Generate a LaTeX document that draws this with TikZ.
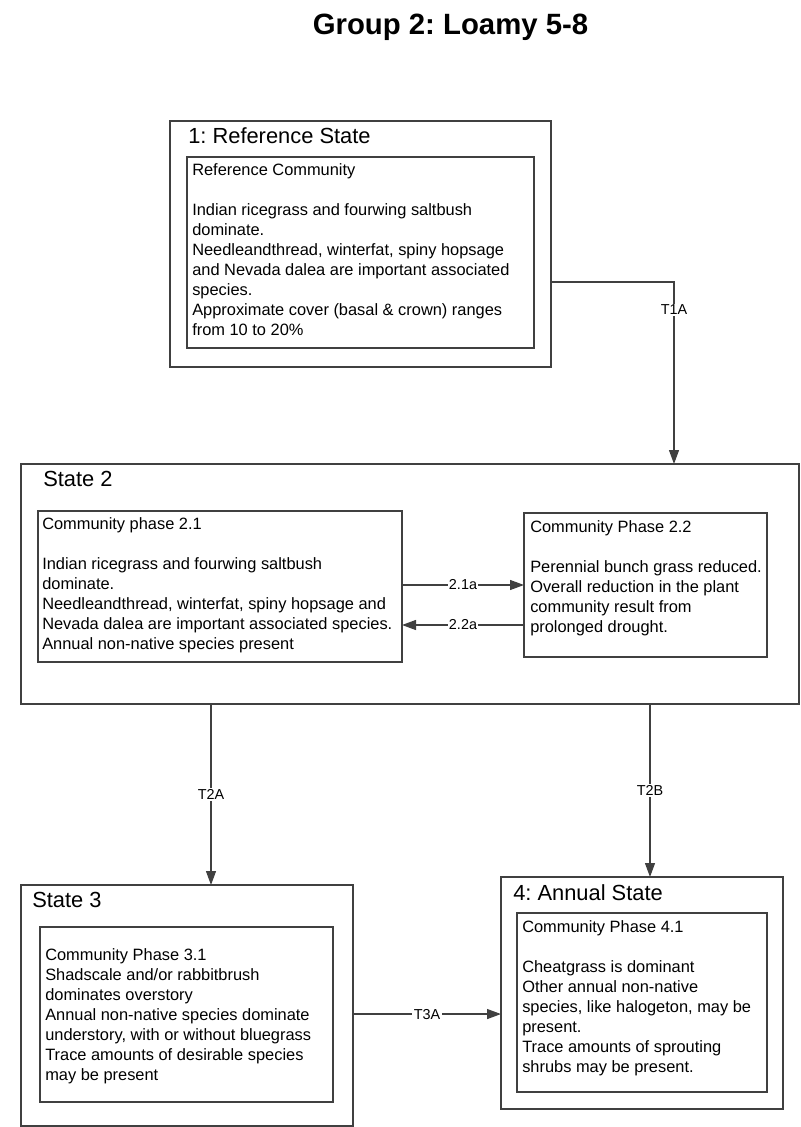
\documentclass[tikz,border=0pt]{standalone}
\usepackage{fontspec}
\setmainfont{Liberation Sans}
\usetikzlibrary{arrows.meta}
\frenchspacing
\newcommand{\titlefont}{\fontsize{22}{26}\selectfont\bfseries}
\newcommand{\headfont}{\fontsize{16.4}{20}\selectfont}
\newcommand{\bodyfont}{\fontsize{12.3}{15}\selectfont}
\newcommand{\lblfont}{\fontsize{10.8}{13}\selectfont}

\begin{document}
\begin{tikzpicture}[x=0.75pt, y=-0.75pt,
		box/.style={draw=black!75, line width=1.1pt, inner sep=0pt, outer sep=0pt, anchor=north west},
		head/.style={anchor=north west, inner sep=0pt, font=\headfont},
		txt/.style={anchor=north west, inner sep=0pt, align=left, font=\bodyfont},
		lbl/.style={fill=white, text=black, inner sep=1pt, font=\lblfont},
		arr/.style={-{Triangle[length=10.5pt,width=7.5pt]}, color=black!75, line width=0.9pt}]
		\useasboundingbox (0,0) rectangle (800,1127);
		\node[anchor=north, inner sep=0pt, font=\titlefont] (title) at (450.5,14) {Group 2: Loamy 5-8};
		
		\node[box, minimum width=285.75pt, minimum height=184.5pt] (ref) at (170,121) {};
		\node[box, minimum width=260.25pt, minimum height=143.25pt] (refin) at (187,157) {};
		\node[head] (reftitle) at (188,127) {1: Reference State};
		\node[txt] (reftxt) at (192,163) {Reference Community\\[15pt]
			Indian ricegrass and fourwing saltbush\\
			dominate.\\
			Needleandthread, winterfat, spiny hopsage\\
			and Nevada dalea are important associated\\
			species.\\
			Approximate cover (basal \& crown) ranges\\
			from 10 to 20\%};
		
		\node[box, minimum width=583.5pt, minimum height=180pt] (s2) at (21,464) {};
		\node[box, minimum width=273pt, minimum height=113.25pt] (cp21) at (38,511) {};
		\node[box, minimum width=182.25pt, minimum height=108pt] (cp22) at (524,513) {};
		\node[head] (s2title) at (43,471) {State 2};
		\node[txt] (cp21txt) at (42,517) {Community phase 2.1\\[15pt]
			Indian ricegrass and fourwing saltbush\\
			dominate.\\
			Needleandthread, winterfat, spiny hopsage and\\
			Nevada dalea are important associated species.\\
			Annual non-native species present};
		\node[txt] (cp22txt) at (530,520) {Community Phase 2.2\\[15pt]
			Perennial bunch grass reduced.\\
			Overall reduction in the plant\\
			community result from\\
			prolonged drought.};
		
		\node[box, minimum width=249pt, minimum height=180.75pt] (s3) at (21,885) {};
		\node[box, minimum width=219.75pt, minimum height=131.25pt] (cp31) at (40,927) {};
		\node[head] (s3title) at (32,892) {State 3};
		\node[txt] (cp31txt) at (45,948) {Community Phase 3.1\\
			Shadscale and/or rabbitbrush\\
			dominates overstory\\
			Annual non-native species dominate\\
			understory, with or without bluegrass\\
			Trace amounts of desirable species\\
			may be present};
		
		\node[box, minimum width=211.5pt, minimum height=174pt] (s4) at (501,877) {};
		\node[box, minimum width=187.5pt, minimum height=134.25pt] (cp41) at (517,913) {};
		\node[head] (s4title) at (513,884) {4: Annual State};
		\node[txt] (cp41txt) at (522,920) {Community Phase 4.1\\[15pt]
			Cheatgrass is dominant\\
			Other annual non-native\\
			species, like halogeton, may be\\
			present.\\
			Trace amounts of sprouting\\
			shrubs may be present.};
		
		\coordinate (t1a) at ([yshift=-28.5pt]ref.east);
		\coordinate (t2a) at ([xshift=-149.25pt]s2.south);
		\coordinate (t2b) at ([xshift=180pt]s2.south);
		\coordinate (t3a) at ([yshift=-6.4pt]s3.east);
		\coordinate (p22) at ([yshift=-30pt]cp22.west);
		\draw[arr] (t1a) -| node[lbl, pos=0.577] {T1A} ([xshift=198pt]s2.north);
		\path[arr]
		(t2a) edge node[lbl] {T2A} (t2a |- s3.north)
		(t2b) edge node[lbl] {T2B} (t2b |- s4.north)
		(t3a) edge node[lbl] {T3A} (t3a -| s4.west)
		(cp21.east |- cp22.west) edge node[lbl] {2.1a} (cp22.west)
		(p22) edge node[lbl] {2.2a} (p22 -| cp21.east);
		
	\end{tikzpicture}
\end{document}
